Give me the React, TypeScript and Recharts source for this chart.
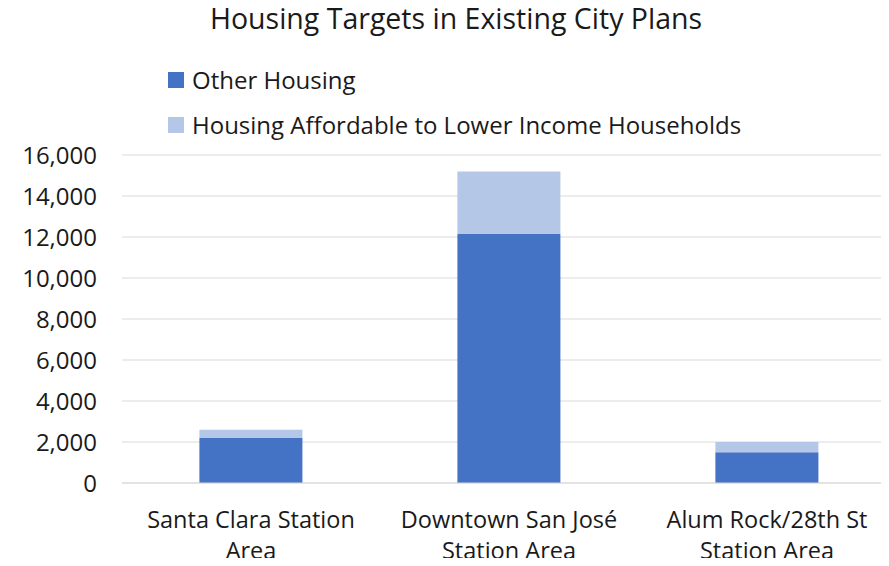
import { BarChart, Bar, XAxis, YAxis, CartesianGrid, Legend } from "recharts";

const categories = [
  "Santa Clara Station|Area",
  "Downtown San José|Station Area",
  "Alum Rock/28th St|Station Area",
];
const otherHousing = [2200, 12150, 1500];
const affordableHousing = [400, 3050, 500];
const yTicks = [0, 2000, 4000, 6000, 8000, 10000, 12000, 14000, 16000];

const data = categories.map((name, i) => ({
  name,
  other: otherHousing[i],
  affordable: affordableHousing[i],
}));

const DARK = "#4472C4";
const LIGHT = "#B4C7E7";
const GRID = "#D9D9D9";
const FONT = "'Open Sans', sans-serif";
const TEXT = "#1a1a1a";

const legendItems = [
  { label: "Other Housing", color: DARK },
  { label: "Housing Affordable to Lower Income Households", color: LIGHT },
];

function XTick(props: any) {
  const { x, y, payload } = props;
  const lines = String(payload.value).split("|");
  return (
    <text x={x} y={y} textAnchor="middle" fill={TEXT} fontSize={23.5} fontFamily={FONT}>
      {lines.map((l, i) => (
        <tspan key={i} x={x} dy={i === 0 ? 45 : 31}>
          {l}
        </tspan>
      ))}
    </text>
  );
}

function LegendBox() {
  return (
    <div style={{ fontFamily: FONT, fontSize: 24, color: TEXT }}>
      {legendItems.map((it, i) => (
        <div
          key={i}
          style={{ display: "flex", alignItems: "center", height: 45 }}
        >
          <span
            style={{
              display: "inline-block",
              width: 16,
              height: 16,
              background: it.color,
              marginRight: 8,
            }}
          />
          {it.label}
        </div>
      ))}
    </div>
  );
}

export default function App() {
  return (
    <div
      style={{
        position: "relative",
        margin: -8,
        width: 889,
        height: 566,
        overflow: "hidden",
        background: "#fff",
      }}
    >
      <div
        style={{
          position: "absolute",
          top: 0,
          left: 0,
          width: 912,
          textAlign: "center",
          fontFamily: FONT,
          fontSize: 28.5,
          color: TEXT,
          lineHeight: "36px",
          zIndex: 2,
        }}
      >
        Housing Targets in Existing City Plans
      </div>
      <BarChart
        width={900}
        height={566}
        data={data}
        margin={{ top: 155, right: 4, bottom: 23, left: 0 }}
        barCategoryGap="30%"
      >
        <CartesianGrid vertical={false} stroke={GRID} />
        <XAxis
          dataKey="name"
          tick={<XTick />}
          tickLine={false}
          axisLine={{ stroke: GRID }}
          tickSize={0}
          tickMargin={0}
          height={60}
          interval={0}
        />
        <YAxis
          ticks={yTicks}
          domain={[0, 16000]}
          tickFormatter={(v: number) => v.toLocaleString("en-US")}
          tick={{ fontSize: 24, fill: TEXT, fontFamily: FONT }}
          tickLine={false}
          axisLine={false}
          tickSize={0}
          tickMargin={25}
          width={122}
        />
        <Legend
          layout="vertical"
          align="center"
          verticalAlign="middle"
          content={<LegendBox />}
          wrapperStyle={{ top: 57, left: 168, width: 715, height: 90 }}
        />
        <Bar dataKey="other" stackId="a" fill={DARK} isAnimationActive={false} />
        <Bar dataKey="affordable" stackId="a" fill={LIGHT} isAnimationActive={false} />
      </BarChart>
    </div>
  );
}
